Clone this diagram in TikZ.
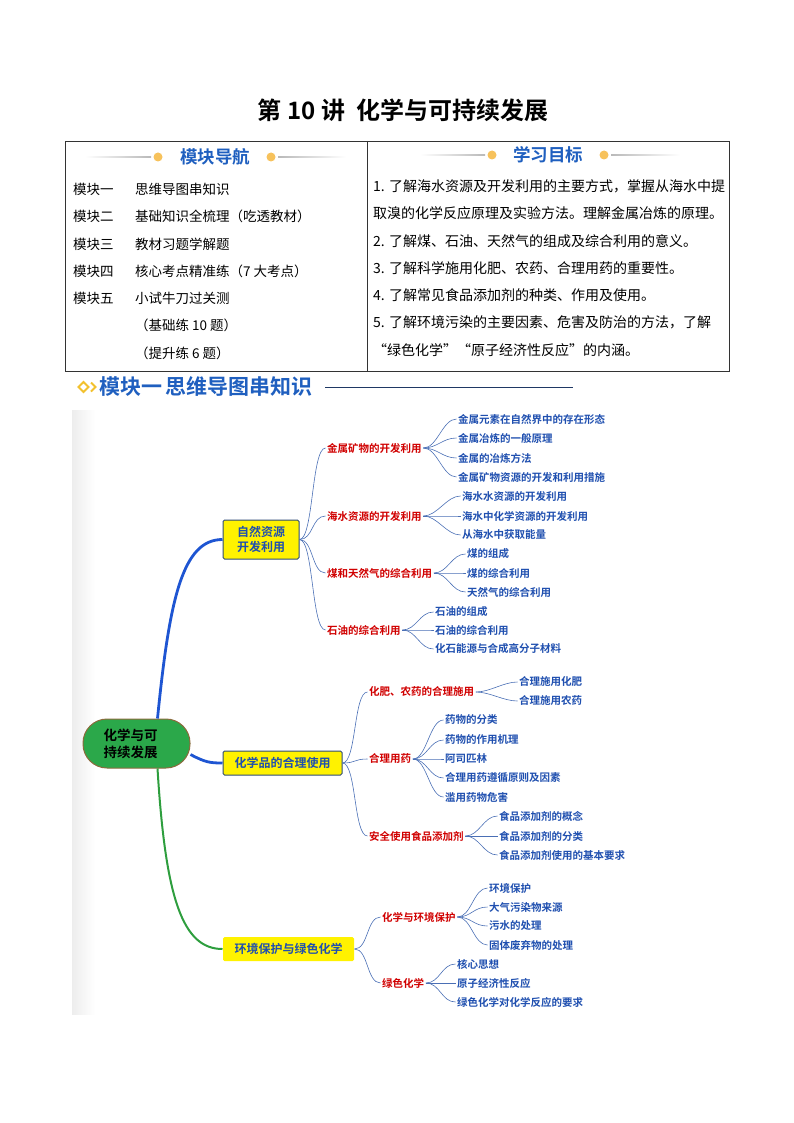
\documentclass[tikz,border=0pt]{standalone}
\usepackage{fontspec}
\setmainfont{Noto Sans CJK SC}[BoldFont={* Bold}]
\usetikzlibrary{positioning}
% Farben
\definecolor{navblue}{HTML}{1F5FBF}
\definecolor{dotorange}{HTML}{F7C25C}
\definecolor{gold}{HTML}{F2C12E}
\definecolor{headline}{HTML}{1F3864}
\definecolor{mapred}{HTML}{D00000}
\definecolor{mapblue}{HTML}{1F4FAF}
\definecolor{linkblue}{HTML}{4A6FB5}
\definecolor{thickblue}{HTML}{1E55D2}
\definecolor{thickgreen}{HTML}{2E9E3E}
\definecolor{rootgreen}{HTML}{2BA84A}
\definecolor{rootedge}{HTML}{8C6A3C}
\definecolor{boxedge}{HTML}{2D4B78}
\tikzset{
  tabtext/.style={anchor=west, inner sep=0pt, font=\fontsize{13.5pt}{16pt}\selectfont},
  goaltext/.style={anchor=west, inner sep=0pt, font=\fontsize{14pt}{16pt}\selectfont},
  navhead/.style={inner sep=0pt, text=navblue, font=\bfseries\fontsize{17.5pt}{20pt}\selectfont},
  rootnode/.style={draw=rootedge, fill=rootgreen, line width=1pt, rounded corners=24pt,
    minimum width=107pt, minimum height=49pt, text width=66pt, align=left, inner sep=0pt,
    font=\bfseries\fontsize{13.5pt}{17pt}\selectfont},
  mainbox/.style={draw=boxedge, fill=yellow, line width=1pt, rounded corners=1.5pt,
    inner sep=0pt, align=center, text=mapblue, font=\bfseries\fontsize{12pt}{15pt}\selectfont},
  subtopic/.style={anchor=west, inner sep=1.5pt, text=mapred, font=\bfseries\fontsize{10.5pt}{12pt}\selectfont},
  leaf/.style={anchor=west, inner sep=1.5pt, text=mapblue, font=\bfseries\fontsize{10.5pt}{12pt}\selectfont},
  twig/.style={draw=linkblue, line width=0.6pt,
    to path={.. controls +(14,0) and +(-14,0) .. (\tikztotarget)}}
}
\begin{document}
\begin{tikzpicture}[x=1pt, y=-1pt]
  \useasboundingbox (0,0) rectangle (794,1123);
  % Titel
  \node[inner sep=0pt, font=\bfseries\fontsize{24pt}{28pt}\selectfont] (title) at (403,110) {第 10 讲 \ 化学与可持续发展};
  % Tabelle
  \draw[black!80, line width=0.8pt] (65,141) rectangle (729,371);
  \draw[black!80, line width=0.8pt] (367,141) -- (367,371);
  % Kopf links
  \shade[left color=white, right color=gray!55] (85,156.4) rectangle (151,157.6);
  \fill[dotorange] (158,157) circle (4.5);
  \node[navhead] (navtitle) at (215,157) {模块导航};
  \fill[dotorange] (271,157) circle (4.5);
  \shade[left color=gray!55, right color=white] (278,156.4) rectangle (346,157.6);
  % Kopf rechts
  \shade[left color=white, right color=gray!55] (420,154.4) rectangle (485,155.6);
  \fill[dotorange] (492,155) circle (4.5);
  \node[navhead] (goaltitle) at (548,155) {学习目标};
  \fill[dotorange] (604,155) circle (4.5);
  \shade[left color=gray!55, right color=white] (611,154.4) rectangle (680,155.6);
  % Module
  \node[tabtext] (m1) at (73,189) {模块一};
  \node[tabtext] (m1t) at (135,189) {思维导图串知识};
  \node[tabtext] (m2) at (73,216) {模块二};
  \node[tabtext] (m2t) at (135,216) {基础知识全梳理（吃透教材）};
  \node[tabtext] (m3) at (73,244) {模块三};
  \node[tabtext] (m3t) at (135,244) {教材习题学解题};
  \node[tabtext] (m4) at (73,271) {模块四};
  \node[tabtext] (m4t) at (135,271) {核心考点精准练（7 大考点）};
  \node[tabtext] (m5) at (73,298) {模块五};
  \node[tabtext] (m5t) at (135,298) {小试牛刀过关测};
  \node[tabtext] (m5a) at (135,325) {（基础练 10 题）};
  \node[tabtext] (m5b) at (135,353) {（提升练 6 题）};
  % Lernziele
  \node[goaltext] (g1) at (373,186) {1. 了解海水资源及开发利用的主要方式，掌握从海水中提};
  \node[goaltext] (g1b) at (373,213) {取溴的化学反应原理及实验方法。理解金属冶炼的原理。};
  \node[goaltext] (g2) at (373,241) {2. 了解煤、石油、天然气的组成及综合利用的意义。};
  \node[goaltext] (g3) at (373,268) {3. 了解科学施用化肥、农药、合理用药的重要性。};
  \node[goaltext] (g4) at (373,295) {4. 了解常见食品添加剂的种类、作用及使用。};
  \node[goaltext] (g5) at (373,322) {5. 了解环境污染的主要因素、危害及防治的方法，了解};
  \node[goaltext] (g5b) at (373,350) {“绿色化学”“原子经济性反应”的内涵。};
  % Abschnitt
  \draw[gold, line width=1.8pt] (78.5,387) -- (83.5,382) -- (88.5,387) -- (83.5,392) -- cycle;
  \draw[gold, line width=1.8pt] (91,382.5) -- (95.5,387) -- (91,391.5);
  \node[anchor=west, inner sep=0pt, text=navblue, font=\bfseries\fontsize{21pt}{24pt}\selectfont] (sec) at (99,387) {模块一\,思维导图串知识};
  \draw[headline, line width=1pt] (325,387) -- (573,387);
  % Mindmap
  \shade[left color=gray!14, right color=white] (72,410) rectangle (95,1014);
  \node[rootnode] (root) at (136.5,743.5) {化学与可\\持续发展};
  \node[mainbox, minimum width=76pt, minimum height=39pt] (nat) at (261,539.5) {自然资源\\开发利用};
  \node[mainbox, minimum width=119pt, minimum height=24pt] (chem) at (282.5,763) {化学品的合理使用};
  \node[mainbox, draw=none, minimum width=131pt, minimum height=24pt] (env) at (288.5,949) {环境保护与绿色化学};
  \draw[thickblue, line width=2.8pt] ([xshift=21pt]root.north) .. controls +(12,-120) and +(-40,0) .. (nat.west);
  \draw[thickblue, line width=2.8pt] ([yshift=-11pt]root.east) .. controls +(15,8) and +(-12,0) .. (chem.west);
  \draw[thickgreen, line width=2pt] ([xshift=21pt]root.south) .. controls +(8,130) and +(-40,0) .. (env.west);
  % Zweig 1
  \node[subtopic] (metal) at (325.5,448) {金属矿物的开发利用};
  \node[subtopic] (sea) at (325.5,516) {海水资源的开发利用};
  \node[subtopic] (coal) at (325.5,573) {煤和天然气的综合利用};
  \node[subtopic] (oil) at (325.5,630) {石油的综合利用};
  \draw[twig] (nat.east) to (metal.west);
  \draw[twig] (nat.east) to (sea.west);
  \draw[twig] (nat.east) to (coal.west);
  \draw[twig] (nat.east) to (oil.west);
  \node[leaf] (metal1) at (456.5,419) {金属元素在自然界中的存在形态};
  \node[leaf] (metal2) at (456.5,438) {金属冶炼的一般原理};
  \node[leaf] (metal3) at (456.5,458) {金属的冶炼方法};
  \node[leaf] (metal4) at (456.5,477) {金属矿物资源的开发和利用措施};
  \draw[twig] (metal.east) to (metal1.west);
  \draw[twig] (metal.east) to (metal2.west);
  \draw[twig] (metal.east) to (metal3.west);
  \draw[twig] (metal.east) to (metal4.west);
  \node[leaf] (sea1) at (460.5,496) {海水水资源的开发利用};
  \node[leaf] (sea2) at (460.5,516) {海水中化学资源的开发利用};
  \node[leaf] (sea3) at (460.5,535) {从海水中获取能量};
  \draw[twig] (sea.east) to (sea1.west);
  \draw[twig] (sea.east) to (sea2.west);
  \draw[twig] (sea.east) to (sea3.west);
  \node[leaf] (coal1) at (465.5,554) {煤的组成};
  \node[leaf] (coal2) at (465.5,573) {煤的综合利用};
  \node[leaf] (coal3) at (465.5,592) {天然气的综合利用};
  \draw[twig] (coal.east) to (coal1.west);
  \draw[twig] (coal.east) to (coal2.west);
  \draw[twig] (coal.east) to (coal3.west);
  \node[leaf] (oil1) at (433.5,612) {石油的组成};
  \node[leaf] (oil2) at (433.5,630) {石油的综合利用};
  \node[leaf] (oil3) at (433.5,649) {化石能源与合成高分子材料};
  \draw[twig] (oil.east) to (oil1.west);
  \draw[twig] (oil.east) to (oil2.west);
  \draw[twig] (oil.east) to (oil3.west);
  % Zweig 2
  \node[subtopic] (fert) at (367.5,692) {化肥、农药的合理施用};
  \node[subtopic] (drug) at (367.5,759) {合理用药};
  \node[subtopic] (food) at (367.5,836) {安全使用食品添加剂};
  \draw[twig] (chem.east) to (fert.west);
  \draw[twig] (chem.east) to (drug.west);
  \draw[twig] (chem.east) to (food.west);
  \node[leaf] (fert1) at (517.5,682) {合理施用化肥};
  \node[leaf] (fert2) at (517.5,701) {合理施用农药};
  \draw[twig] (fert.east) to (fert1.west);
  \draw[twig] (fert.east) to (fert2.west);
  \node[leaf] (drug1) at (443.5,720) {药物的分类};
  \node[leaf] (drug2) at (443.5,740) {药物的作用机理};
  \node[leaf] (drug3) at (443.5,759) {阿司匹林};
  \node[leaf] (drug4) at (443.5,778) {合理用药遵循原则及因素};
  \node[leaf] (drug5) at (443.5,797) {滥用药物危害};
  \draw[twig] (drug.east) to (drug1.west);
  \draw[twig] (drug.east) to (drug2.west);
  \draw[twig] (drug.east) to (drug3.west);
  \draw[twig] (drug.east) to (drug4.west);
  \draw[twig] (drug.east) to (drug5.west);
  \node[leaf] (food1) at (497.5,816) {食品添加剂的概念};
  \node[leaf] (food2) at (497.5,836) {食品添加剂的分类};
  \node[leaf] (food3) at (497.5,855) {食品添加剂使用的基本要求};
  \draw[twig] (food.east) to (food1.west);
  \draw[twig] (food.east) to (food2.west);
  \draw[twig] (food.east) to (food3.west);
  % Zweig 3
  \node[subtopic] (protect) at (380.5,917) {化学与环境保护};
  \node[subtopic] (green) at (380.5,983) {绿色化学};
  \draw[twig] (env.east) to (protect.west);
  \draw[twig] (env.east) to (green.west);
  \node[leaf] (protect1) at (487.5,888) {环境保护};
  \node[leaf] (protect2) at (487.5,907) {大气污染物来源};
  \node[leaf] (protect3) at (487.5,926) {污水的处理};
  \node[leaf] (protect4) at (487.5,945) {固体废弃物的处理};
  \draw[twig] (protect.east) to (protect1.west);
  \draw[twig] (protect.east) to (protect2.west);
  \draw[twig] (protect.east) to (protect3.west);
  \draw[twig] (protect.east) to (protect4.west);
  \node[leaf] (green1) at (455.5,964) {核心思想};
  \node[leaf] (green2) at (455.5,983) {原子经济性反应};
  \node[leaf] (green3) at (455.5,1002) {绿色化学对化学反应的要求};
  \draw[twig] (green.east) to (green1.west);
  \draw[twig] (green.east) to (green2.west);
  \draw[twig] (green.east) to (green3.west);
\end{tikzpicture}
\end{document}
